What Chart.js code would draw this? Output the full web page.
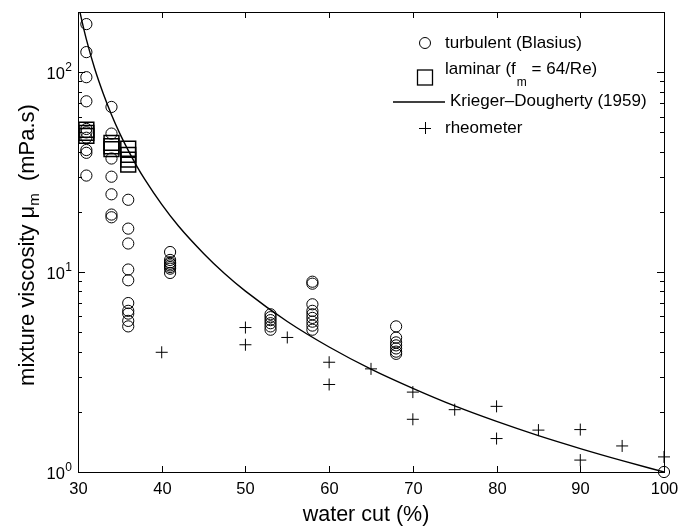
<!DOCTYPE html>
<html>
<head>
<meta charset="utf-8">
<script src="https://cdn.jsdelivr.net/npm/chart.js@4.4.1/dist/chart.umd.min.js"></script>
<style>
  html, body { margin: 0; padding: 0; background: #fff; }
  #wrap { width: 678px; height: 528px; }
</style>
</head>
<body>
<div id="wrap"><canvas id="chart" width="678" height="528"></canvas></div>
<script>
// --- dados ---
const turbCut = [31, 31, 31, 31, 31, 31, 31, 31, 31, 31,
                 34, 34, 34, 34, 34, 34, 34,
                 36, 36, 36, 36, 36, 36, 36, 36, 36, 36,
                 41, 41, 41, 41, 41, 41, 41, 41,
                 53, 53, 53, 53, 53, 53,
                 58, 58, 58, 58, 58, 58, 58, 58, 58,
                 68, 68, 68, 68, 68, 68, 68,
                 100];
const turbVisc = [174, 126, 94.4, 71.5, 52, 50, 47, 40.8, 39.5, 30.4,
                  67, 49.3, 37, 30, 24.5, 19.4, 18.8,
                  23.0, 16.5, 13.9, 10.3, 9.1, 7.0, 6.4, 6.2, 5.7, 5.35,
                  12.6, 11.5, 11.2, 11.0, 10.8, 10.6, 10.4, 9.9,
                  6.15, 5.95, 5.75, 5.55, 5.35, 5.15,
                  8.95, 8.75, 6.9, 6.4, 6.15, 5.9, 5.65, 5.4, 5.15,
                  5.35, 4.7, 4.45, 4.3, 4.15, 4.0, 3.9,
                  1.0];

const lamCut = [31, 31, 31, 34, 34, 34, 36, 36, 36, 36];
const lamVisc = [51.5, 49.7, 48.0, 44.3, 42.6, 41.2, 41.4, 38.6, 36.5, 34.5];

const kdCut = [30, 30.5, 31, 32, 33, 34, 35, 36, 37, 38, 40, 42, 45, 47.5, 50, 55, 60, 65, 70, 75, 80, 85, 90, 95, 100];
const kdVisc = [221, 178, 146, 104, 78.5, 61.3, 49.3, 40.6, 34.0, 29.0, 21.8, 17.0, 12.4, 9.84, 8.03, 5.66, 4.22, 3.27, 2.62, 2.14, 1.79, 1.52, 1.31, 1.14, 1];

const rheoCut = [40, 50, 50, 55, 60, 60, 65, 70, 70, 75, 80, 80, 85, 90, 90, 95, 100];
const rheoVisc = [3.97, 5.28, 4.33, 4.71, 3.54, 2.74, 3.28, 2.51, 1.835, 2.05, 2.13, 1.47, 1.62, 1.63, 1.147, 1.35, 1.19];

const xTicks = [30, 40, 50, 60, 70, 80, 90, 100];
const yMajor = [1, 10, 100];
const yMajorExp = ['0', '1', '2'];

const FONT = '"Liberation Sans", Arial, Helvetica, sans-serif';

function pts(xs, ys) {
    return xs.map((x, i) => ({ x: x, y: ys[i] }));
}

// plugin que desenha a moldura, os ticks, os textos e a legenda
const framePlugin = {
    id: 'frame',
    afterDatasetsDraw(chart) {
        const ctx = chart.ctx;
        const a = chart.chartArea;
        const xs = chart.scales.x;
        const ys = chart.scales.y;
        ctx.save();
        ctx.strokeStyle = '#000';
        ctx.fillStyle = '#000';
        ctx.lineWidth = 1;

        // caixa
        ctx.strokeRect(Math.round(a.left) + 0.5, Math.round(a.top) + 0.5,
            Math.round(a.right - a.left), Math.round(a.bottom - a.top));

        // ticks x
        ctx.font = '16.5px ' + FONT;
        ctx.textAlign = 'center';
        ctx.textBaseline = 'top';
        xTicks.forEach(v => {
            const px = Math.round(xs.getPixelForValue(v)) + 0.5;
            ctx.beginPath();
            ctx.moveTo(px, a.bottom); ctx.lineTo(px, a.bottom - 6);
            ctx.moveTo(px, a.top); ctx.lineTo(px, a.top + 6);
            ctx.stroke();
            ctx.fillText(String(v), px, a.bottom + 9);
        });

        // ticks y (log)
        for (let dec = 1; dec <= 100; dec *= 10) {
            for (let m = 1; m <= 9; m++) {
                const v = dec * m;
                if (v > ys.max) break;
                const py = Math.round(ys.getPixelForValue(v)) + 0.5;
                const len = m === 1 ? 7 : 4;
                ctx.beginPath();
                ctx.moveTo(a.left, py); ctx.lineTo(a.left + len, py);
                ctx.moveTo(a.right, py); ctx.lineTo(a.right - len, py);
                ctx.stroke();
            }
        }
        yMajor.forEach((v, i) => {
            const py = ys.getPixelForValue(v);
            ctx.textBaseline = 'middle';
            ctx.font = '12px ' + FONT;
            const supW = ctx.measureText(yMajorExp[i]).width;
            ctx.textAlign = 'left';
            ctx.fillText(yMajorExp[i], a.left - 6 - supW, py - 4);
            ctx.textAlign = 'right';
            ctx.font = '16.5px ' + FONT;
            ctx.fillText('10', a.left - 6 - supW - 0.5, py + 2);
        });

        // título do eixo x
        ctx.font = '21.5px ' + FONT;
        ctx.textAlign = 'center';
        ctx.textBaseline = 'alphabetic';
        ctx.fillText('water cut (%)', 366, 521);

        // título do eixo y (com subscrito)
        ctx.save();
        ctx.translate(34, 245);
        ctx.rotate(-Math.PI / 2);
        const partA = 'mixture viscosity \u03bc';
        const partB = 'm';
        const partC = '  (mPa.s)';
        ctx.font = '22px ' + FONT;
        const wA = ctx.measureText(partA).width;
        const wC = ctx.measureText(partC).width;
        ctx.font = '15px ' + FONT;
        const wB = ctx.measureText(partB).width;
        const total = wA + wB + wC;
        let cx = -total / 2;
        ctx.textAlign = 'left';
        ctx.font = '22px ' + FONT;
        ctx.fillText(partA, cx, 0);
        cx += wA;
        ctx.font = '15px ' + FONT;
        ctx.fillText(partB, cx, 5);
        cx += wB;
        ctx.font = '22px ' + FONT;
        ctx.fillText(partC, cx, 0);
        ctx.restore();

        // legenda
        const lx = 425, tx = 445;
        ctx.lineWidth = 1;
        ctx.beginPath(); ctx.arc(lx, 43, 5.5, 0, Math.PI * 2); ctx.stroke();
        ctx.lineWidth = 1.3;
        ctx.strokeRect(lx - 7.5, 70, 15, 15);
        ctx.lineWidth = 1.3;
        ctx.beginPath(); ctx.moveTo(393, 102); ctx.lineTo(445, 102); ctx.stroke();
        ctx.lineWidth = 1;
        ctx.beginPath();
        ctx.moveTo(lx - 6, 128.5); ctx.lineTo(lx + 6, 128.5);
        ctx.moveTo(lx + 0.5, 122); ctx.lineTo(lx + 0.5, 134);
        ctx.stroke();

        ctx.textAlign = 'left';
        ctx.textBaseline = 'middle';
        ctx.font = '17px ' + FONT;
        ctx.fillText('turbulent (Blasius)', tx, 43);
        let lxx = tx;
        ctx.fillText('laminar (f', lxx, 69);
        lxx += ctx.measureText('laminar (f').width;
        ctx.font = '12px ' + FONT;
        ctx.fillText('m', lxx + 1, 83);
        lxx += ctx.measureText('m').width + 1;
        ctx.font = '17px ' + FONT;
        ctx.fillText(' = 64/Re)', lxx, 69);
        ctx.fillText('Krieger\u2013Dougherty (1959)', 450, 101);
        ctx.fillText('rheometer', tx, 128);
        ctx.restore();
    }
};

new Chart(document.getElementById('chart'), {
    type: 'scatter',
    data: {
        datasets: [
            {
                label: 'turbulent (Blasius)',
                data: pts(turbCut, turbVisc),
                pointStyle: 'circle',
                pointRadius: 5.6,
                borderColor: '#000',
                backgroundColor: 'rgba(0,0,0,0)',
                borderWidth: 1,
                clip: false
            },
            {
                label: 'laminar (fm = 64/Re)',
                data: pts(lamCut, lamVisc),
                pointStyle: 'rect',
                pointRadius: 10.5,
                borderColor: '#000',
                backgroundColor: 'rgba(0,0,0,0)',
                borderWidth: 1.5,
                clip: false
            },
            {
                label: 'Krieger–Dougherty (1959)',
                type: 'line',
                data: pts(kdCut, kdVisc),
                borderColor: '#000',
                borderWidth: 1.4,
                pointRadius: 0,
                fill: false,
                cubicInterpolationMode: 'monotone'
            },
            {
                label: 'rheometer',
                data: pts(rheoCut, rheoVisc),
                pointStyle: 'cross',
                pointRadius: 6,
                borderColor: '#000',
                borderWidth: 1,
                clip: false
            }
        ]
    },
    options: {
        responsive: false,
        animation: false,
        events: [],
        layout: { padding: { left: 78, right: 14, top: 9, bottom: 56 } },
        scales: {
            x: { type: 'linear', min: 30, max: 100, display: false },
            y: { type: 'logarithmic', min: 1, max: 200, display: false }
        },
        plugins: {
            legend: { display: false },
            tooltip: { enabled: false }
        }
    },
    plugins: [framePlugin]
});
</script>
</body>
</html>
